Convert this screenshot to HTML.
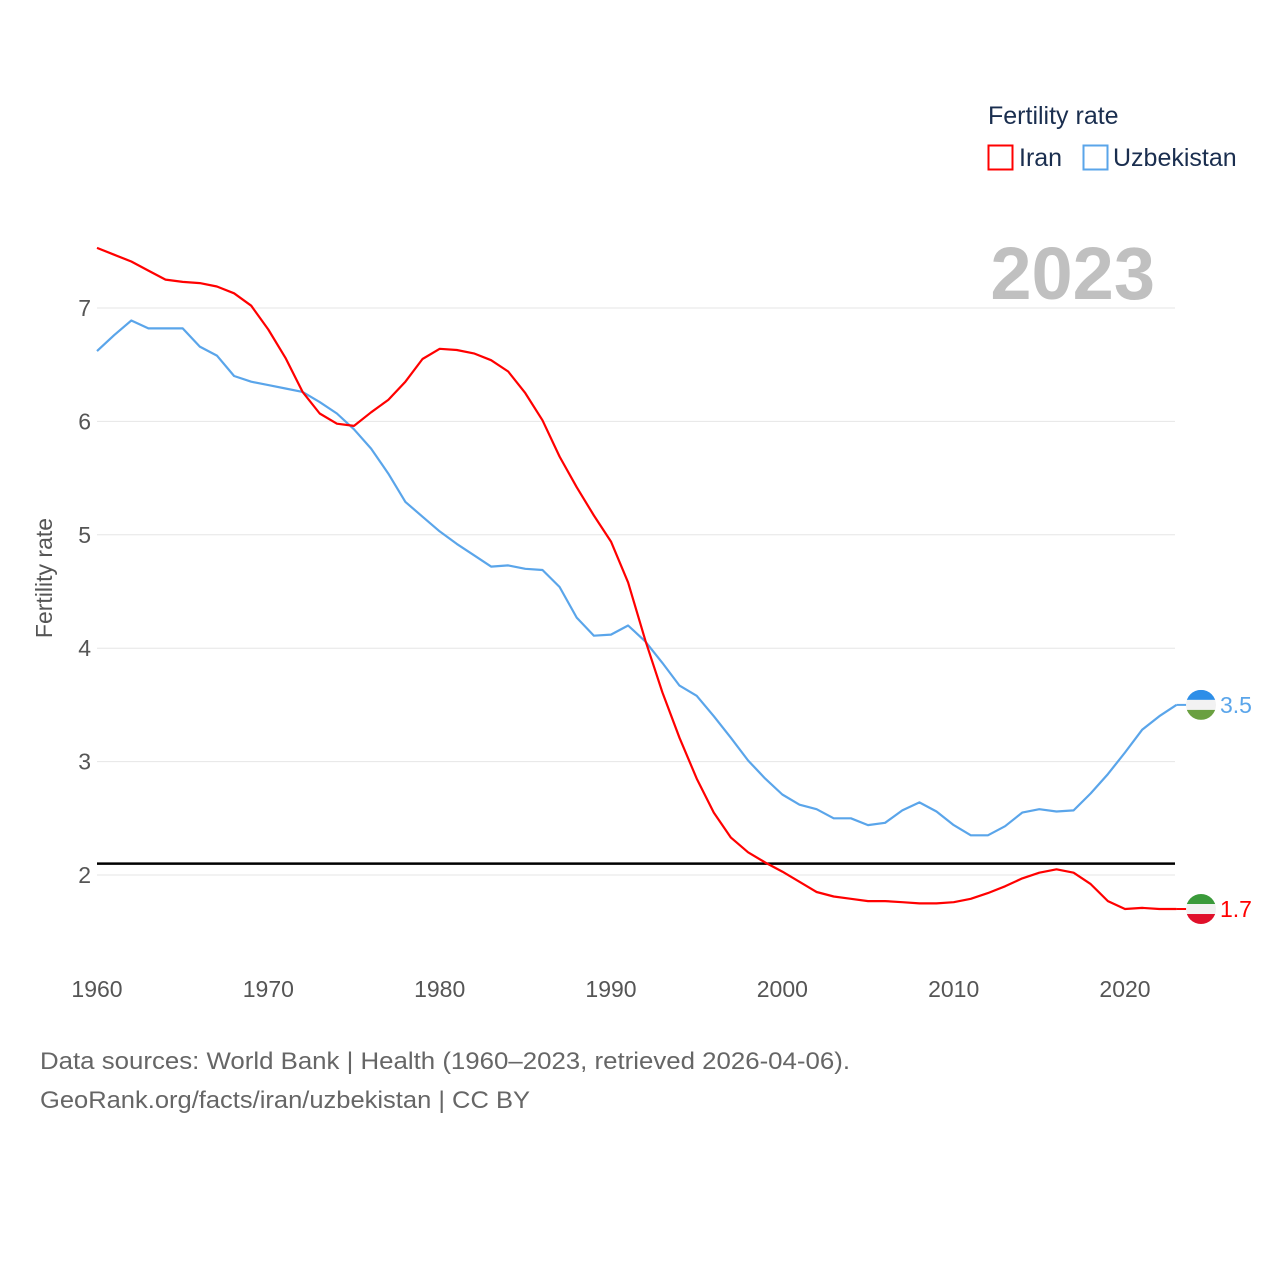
<!DOCTYPE html>
<html><head><meta charset="utf-8">
<style>
html,body{margin:0;padding:0;background:#fff;}
body{width:1280px;height:1280px;overflow:hidden;font-family:"Liberation Sans",sans-serif;}
svg text{font-family:"Liberation Sans",sans-serif;}
</style></head>
<body>
<svg id="chart" width="1280" height="1280" viewBox="0 0 1280 1280">
  <g id="grid"></g>
  <g id="yticks"></g>
  <g id="xticks"></g>
  <text x="52" y="578" transform="rotate(-90 52 578)" text-anchor="middle" font-size="23" fill="#555">Fertility rate</text>
  <text x="1155" y="299" text-anchor="end" font-size="74" font-weight="bold" fill="#c0c0c0">2023</text>
  <g id="refline"></g>
  <g id="series"></g>
  <g id="endlabels"></g>
  <g>
    <text x="988" y="124" font-size="25" fill="#1a2e4f">Fertility rate</text>
    <g>
      <rect x="988.5" y="145.5" width="24" height="24" fill="none" stroke="#ff0000" stroke-width="2"/>
      <text x="1019" y="166" font-size="25" fill="#1a2e4f">Iran</text>
    </g>
    <g>
      <rect x="1083.5" y="145.5" width="24" height="24" fill="none" stroke="#5aa5ea" stroke-width="2"/>
      <text x="1113" y="166" font-size="25" fill="#1a2e4f">Uzbekistan</text>
    </g>
  </g>
  <text x="40" y="1069" font-size="24" fill="#666" textLength="810" lengthAdjust="spacingAndGlyphs">Data sources: World Bank | Health (1960–2023, retrieved 2026-04-06).</text>
  <text x="40" y="1108" font-size="24" fill="#666" textLength="490" lengthAdjust="spacingAndGlyphs">GeoRank.org/facts/iran/uzbekistan | CC BY</text>
</svg>
<script>
const years = [];
for (let y = 1960; y <= 2023; y++) years.push(y);
const iranValues = [7.53,7.47,7.41,7.33,7.25,7.23,7.22,7.19,7.13,7.02,6.81,6.56,6.26,6.07,5.98,5.96,6.08,6.19,6.35,6.55,6.64,6.63,6.60,6.54,6.44,6.25,6.01,5.69,5.42,5.17,4.94,4.58,4.07,3.61,3.21,2.85,2.55,2.33,2.20,2.11,2.03,1.94,1.85,1.81,1.79,1.77,1.77,1.76,1.75,1.75,1.76,1.79,1.84,1.90,1.97,2.02,2.05,2.02,1.92,1.77,1.70,1.71,1.70,1.70];
const uzbekValues = [6.62,6.76,6.89,6.82,6.82,6.82,6.66,6.58,6.40,6.35,6.32,6.29,6.26,6.17,6.07,5.93,5.76,5.54,5.29,5.16,5.03,4.92,4.82,4.72,4.73,4.70,4.69,4.54,4.27,4.11,4.12,4.20,4.06,3.87,3.67,3.58,3.40,3.21,3.01,2.85,2.71,2.62,2.58,2.50,2.50,2.44,2.46,2.57,2.64,2.56,2.44,2.35,2.35,2.43,2.55,2.58,2.56,2.57,2.72,2.89,3.08,3.28,3.40,3.50];
const yTicks = [2,3,4,5,6,7];
const xTicks = [1960,1970,1980,1990,2000,2010,2020];
const replacementRate = [2.1];
const endLabels = ["1.7","3.5"];

const NS = "http://www.w3.org/2000/svg";
const X0 = 97, XPY = 1028/60, Y7 = 308, YPU = 113.4;
const xs = y => X0 + (y - 1960) * XPY;
const ys = v => Y7 + (7 - v) * YPU;
function mk(tag, attrs, parent, txt){
  const e = document.createElementNS(NS, tag);
  for (const k in attrs) e.setAttribute(k, attrs[k]);
  if (txt !== undefined) e.textContent = txt;
  parent.appendChild(e); return e;
}
const grid = document.getElementById('grid'), yt = document.getElementById('yticks'), xt = document.getElementById('xticks');
yTicks.forEach(v => {
  const l = mk('line', {x1:97, x2:1175, y1:ys(v), y2:ys(v), stroke:'#e6e6e6', 'stroke-width':1}, grid);
  
  
  const t = mk('text', {x:91, y:ys(v)+8, 'text-anchor':'end', 'font-size':23, fill:'#555'}, yt, String(v));
  
  
});
xTicks.forEach(v => {
  const t = mk('text', {x:xs(v), y:997, 'text-anchor':'middle', 'font-size':23, fill:'#555'}, xt, String(v));
  
  
});
const rl = mk('line', {x1:97, x2:1175, y1:ys(replacementRate[0]), y2:ys(replacementRate[0]), stroke:'#000', 'stroke-width':2.5}, document.getElementById('refline'));



const sg = document.getElementById('series');
function line(vals, color, name){
  const d = vals.map((v,i) => (i?'L':'M') + xs(years[i]).toFixed(1) + ',' + ys(v).toFixed(1)).join(' ');
  const p = mk('path', {d, fill:'none', stroke:color, 'stroke-width':2.2, 'stroke-linejoin':'round'}, sg);
  
  
}
line(uzbekValues, '#5aa5ea', 'uzbekistan-line');
line(iranValues, '#ff0000', 'iran-line');

const eg = document.getElementById('endlabels');
function endMarker(vals, color, label, name, flag){
  const v = vals[vals.length-1], y = ys(v), xe = xs(years[years.length-1]);
  mk('line', {x1:xe, x2:1188, y1:y, y2:y, stroke:color, 'stroke-width':2}, eg);
  const g = mk('g', {}, eg);
  
  
  const cx = 1201, r = 15;
  const id = 'clip-' + name;
  const cp = mk('clipPath', {id}, g); mk('circle', {cx, cy:y, r}, cp);
  const fg = mk('g', {'clip-path':'url(#'+id+')'}, g);
  mk('rect', {x:cx-r, y:y-r, width:2*r, height:10, fill:flag[0]}, fg);
  mk('rect', {x:cx-r, y:y-5, width:2*r, height:10, fill:flag[1]}, fg);
  mk('rect', {x:cx-r, y:y+5, width:2*r, height:10, fill:flag[2]}, fg);
  const t = mk('text', {x:1220, y:y+8, 'font-size':23, fill:color}, eg, label);
  
  
}
endMarker(iranValues, '#ff0000', endLabels[0], 'iran', ['#3a9a3a','#f2f2f2','#e0102a']);
endMarker(uzbekValues, '#5aa5ea', endLabels[1], 'uzbekistan', ['#2d8ee8','#f2f2f2','#6aa040']);
</script>
</body></html>
